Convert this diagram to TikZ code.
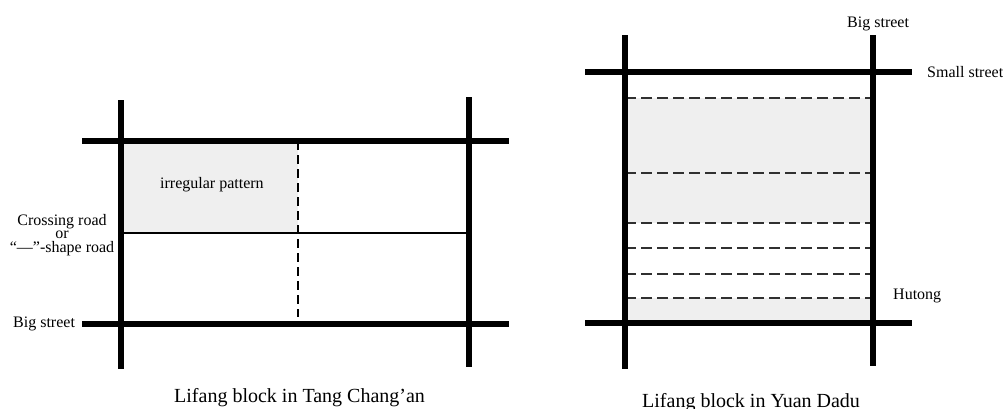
\documentclass[tikz,border=0pt]{standalone}
\usepackage{fontspec}
\setmainfont{Liberation Serif}
\definecolor{lotfill}{HTML}{EFEFEF}
\definecolor{alleyink}{HTML}{303030}
\begin{document}
\begin{tikzpicture}[x=1pt,y=-1pt,
  road/.style={line width=5.5pt, black},
  lane/.style={line width=1.8pt, black},
  plotdash/.style={line width=2.6pt, black, dash pattern=on 9pt off 5pt},
  hutong/.style={line width=1.1pt, alleyink, dash pattern=on 11pt off 5pt},
  block/.style={fill=lotfill, draw=none},
  lbl/.style={font=\fontsize{16}{13.5}\selectfont, inner sep=0pt},
  blockcaption/.style={font=\fontsize{20}{24}\selectfont, inner sep=0pt}]
\useasboundingbox (0,0) rectangle (1003,408);

% ---------- Lifang block in Tang Chang'an ----------
\coordinate (tA) at (121,100);  \coordinate (tA') at (121,369);
\coordinate (tB) at (469,97);   \coordinate (tB') at (469,367);
\coordinate (tN) at (82,141);   \coordinate (tN') at (509,141);
\coordinate (tS) at (82,324);   \coordinate (tS') at (509,324);
\coordinate (tM) at (121,233);  \coordinate (tM') at (469,233);
\coordinate (tD) at (298,141);  \coordinate (tD') at (298,317);

\fill[block] (121,141) rectangle (298,233);
\draw[lane] (tM) -- (tM');
\draw[plotdash] (tD) -- (tD');
\draw[road] (tA) -- (tA');
\draw[road] (tB) -- (tB');
\draw[road] (tN) -- (tN');
\draw[road] (tS) -- (tS');

\node[lbl, anchor=base west] (irr) at (160,188) {irregular pattern};
\node[lbl, anchor=north, align=center] (cross) at (62,214)
  {Crossing road\\or\\“—”-shape road};
\node[lbl, anchor=base west] (bigL) at (13,327) {Big street};
\node[blockcaption, anchor=base west] (capL) at (174,402) {Lifang block in Tang Chang’an};

% ---------- Lifang block in Yuan Dadu ----------
\coordinate (yA) at (625,35);   \coordinate (yA') at (625,369);
\coordinate (yB) at (873,35);   \coordinate (yB') at (873,366);
\coordinate (yN) at (585,72);   \coordinate (yN') at (912,72);
\coordinate (yS) at (585,323);  \coordinate (yS') at (912,323);

\fill[block] (625,98) rectangle (873,223);
\fill[block] (625,298) rectangle (873,323);
\foreach \yy in {98,173,223,248,274,298}
  \draw[hutong] (625,\yy) -- (873,\yy);
\draw[road] (yA) -- (yA');
\draw[road] (yB) -- (yB');
\draw[road] (yN) -- (yN');
\draw[road] (yS) -- (yS');

\node[lbl, anchor=base west] (bigR) at (847,27) {Big street};
\node[lbl, anchor=base west] (small) at (927,77) {Small street};
\node[lbl, anchor=base west] (hut) at (893,299) {Hutong};
\node[blockcaption, anchor=base west] (capR) at (642,407) {Lifang block in Yuan Dadu};
\end{tikzpicture}
\end{document}
